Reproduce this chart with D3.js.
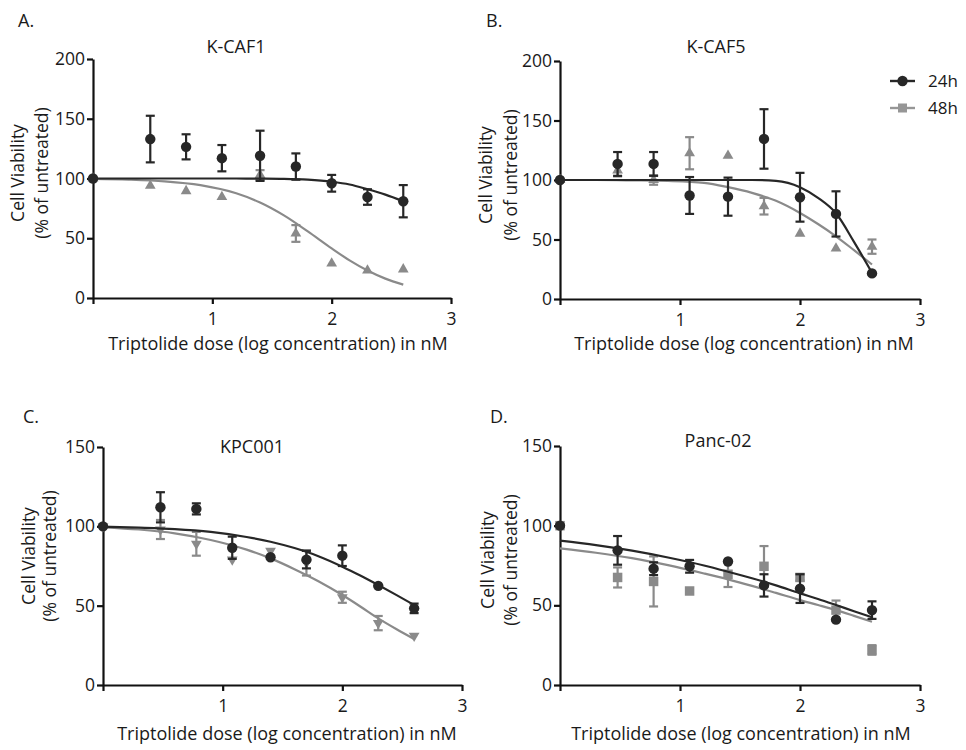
<!DOCTYPE html>
<html>
<head>
<meta charset="utf-8">
<script src="https://cdn.jsdelivr.net/npm/d3@7"></script>
<style>
  body { margin: 0; background: #fff; }
  svg text { font-family: "Open Sans", sans-serif; fill: #1a1a1a; }
</style>
</head>
<body>
<div id="chart-area"></div>
<script>
// log10 of triptolide dose in nM (0 = untreated)
var doses = [0, 0.48, 0.78, 1.08, 1.4, 1.7, 2.0, 2.3, 2.6];
var fitDoses = [0, 0.3, 0.6, 0.9, 1.2, 1.4, 1.6, 1.8, 2.0, 2.15, 2.3, 2.45, 2.6];

var xTicks = [0, 1, 2, 3];
var yTicksTop = [0, 50, 100, 150, 200];
var yTicksBottom = [0, 50, 100, 150];
var seriesNames = ["24h", "48h"];

// K-CAF1
var kcaf1_24h    = [100, 133, 126.5, 117, 119, 110, 96, 84.5, 81];
var kcaf1_24hErr = [0, 19.5, 10.5, 11, 21, 11, 7, 6.5, 13.5];
var kcaf1_48h    = [100, 94, 89.5, 84.5, 103, 54, 29, 23, 24];
var kcaf1_48hErr = [0, 0, 0, 0, 4, 7, 0, 0, 0];
var kcaf1_24hFit = [100, 100, 100, 100, 100, 99.9, 99.7, 99, 97.3, 95, 91, 86.5, 81];
var kcaf1_48hFit = [99.6, 99, 97.6, 94.4, 87.6, 79.9, 69.1, 55.7, 41.5, 31.5, 23, 16.2, 11.2];

// K-CAF5
var kcaf5_24h    = [100, 113.5, 113.5, 87, 86, 134.5, 85.5, 71.5, 21.5];
var kcaf5_24hErr = [0, 10, 10, 15.5, 16, 25, 20.5, 19, 0];
var kcaf5_48h    = [100, 108, 100, 122.5, 120.5, 78, 55, 42.5, 44];
var kcaf5_48hErr = [0, 5, 4, 13.5, 0, 7, 0, 0, 6];
var kcaf5_24hFit = [100, 100, 100, 100, 100, 100, 100, 99.3, 94, 85, 72, 48, 22];
var kcaf5_48hFit = [100, 100, 99.7, 99.2, 97.6, 94, 89.2, 82.5, 72.3, 63, 52.7, 41, 29];

// KPC001
var kpc001_24h    = [100, 112, 111, 86.5, 80.5, 79, 81.5, 62.5, 48.3];
var kpc001_24hErr = [0, 9.5, 3.5, 7, 0, 5.5, 6.5, 0, 3];
var kpc001_48h    = [100, 98, 89, 79, 84.5, 77, 55.3, 39, 31];
var kpc001_48hErr = [0, 6, 7.5, 0, 0, 8, 3.5, 4.5, 0];
var kpc001_24hFit = [99.8, 99.2, 98.3, 96.5, 93.3, 90.3, 86.3, 81.2, 74.6, 69, 63, 56.8, 50.4];
var kpc001_48hFit = [99.4, 98, 95.6, 91.4, 85.3, 79.8, 73, 65.4, 56.7, 49.5, 42, 35.3, 29];

// Panc-02
var panc02_24h    = [100, 84.5, 73, 74.5, 77.5, 62.5, 60.5, 41, 47];
var panc02_24hErr = [0, 9, 4, 4, 0, 7, 9, 0, 5.5];
var panc02_48h    = [100, 67.5, 65, 59, 69.5, 74.5, 67.5, 47, 22];
var panc02_48hErr = [0, 6.3, 15.7, 0, 8, 12.7, 2, 6, 3];
var panc02_24hFit = [90.6, 87.8, 84.3, 80, 75, 71.1, 67, 62.5, 57.5, 54, 50.2, 46.3, 42.5];
var panc02_48hFit = [85.8, 83, 79.6, 75.2, 70, 66.3, 62.2, 57.8, 53.3, 50.2, 47, 43.4, 39.7];

var dark = "#272727",
    gray = "#8a8a8a";

var svg = d3.select("#chart-area")
  .append("svg")
    .attr("width", 966)
    .attr("height", 750);

var xLabel = "Triptolide dose (log concentration) in nM";

function drawPanel(p) {
  var x = d3.scaleLinear().domain([0, 3]).range([p.x0, p.x1]);
  var y = d3.scaleLinear().domain([0, p.yMax]).range([p.y0, p.y1]);

  var g = svg.append("g");

  // panel letter + title
  g.append("text")
    .attr("x", p.letterX).attr("y", p.letterY)
    .attr("font-size", "18px")
    .text(p.letter);
  g.append("text")
    .attr("x", p.titleX).attr("y", p.titleY)
    .attr("text-anchor", "middle")
    .attr("font-size", "18px")
    .text(p.title);

  // y label (two lines)
  g.append("text")
    .attr("transform", "translate(" + p.yLab1 + "," + p.yLabY + ") rotate(-90)")
    .attr("text-anchor", "middle")
    .attr("dy", "0.35em")
    .attr("font-size", "17.5px")
    .text("Cell Viability");
  g.append("text")
    .attr("transform", "translate(" + p.yLab2 + "," + p.yLabY + ") rotate(-90)")
    .attr("text-anchor", "middle")
    .attr("dy", "0.35em")
    .attr("font-size", "17.5px")
    .text("(% of untreated)");

  // x label
  g.append("text")
    .attr("x", p.xLabX).attr("y", p.xLabY)
    .attr("text-anchor", "middle")
    .attr("font-size", "18px")
    .text(xLabel);

  // axes
  var xAxis = d3.axisBottom(x)
    .tickValues(xTicks)
    .tickSize(6)
    .tickSizeOuter(0)
    .tickPadding(9)
    .tickFormat(function(d) { return d === 0 ? "" : d; });
  var gx = g.append("g")
    .attr("transform", "translate(0," + p.y0 + ")")
    .call(xAxis);

  var yAxis = d3.axisLeft(y)
    .tickValues(p.yTicks)
    .tickSize(6)
    .tickSizeOuter(0)
    .tickPadding(2);
  var gy = g.append("g")
    .attr("transform", "translate(" + p.x0 + ",0)")
    .call(yAxis);

  [gx, gy].forEach(function(a) {
    a.select(".domain").attr("stroke", "#111").attr("stroke-width", 2.2);
    a.selectAll(".tick line").attr("stroke", "#111").attr("stroke-width", 2.2);
    a.selectAll(".tick text")
      .attr("font-family", "Open Sans, sans-serif")
      .attr("font-size", "17.5px")
      .attr("fill", "#1a1a1a");
  });

  var line = d3.line()
    .x(function(d) { return x(d[0]); })
    .y(function(d) { return y(d[1]); })
    .curve(d3.curveMonotoneX);

  // 48h drawn first, 24h on top
  var series = [
    { vals: p.s48, err: p.e48, fit: p.f48, color: gray, shape: p.shape48 },
    { vals: p.s24, err: p.e24, fit: p.f24, color: dark, shape: "circle" }
  ];

  series.forEach(function(s) {
    g.append("path")
      .datum(fitDoses.map(function(d, i) { return [d, s.fit[i]]; }))
      .attr("fill", "none")
      .attr("stroke", s.color)
      .attr("stroke-width", 2.2)
      .attr("d", line);

    var pts = doses.map(function(d, i) { return { x: d, v: s.vals[i], e: s.err[i] }; });

    var eb = g.selectAll(null)
      .data(pts.filter(function(d) { return d.e > 0; }))
      .enter().append("g")
      .attr("stroke", s.color)
      .attr("stroke-width", 2.2);
    eb.append("line")
      .attr("x1", function(d) { return x(d.x); })
      .attr("x2", function(d) { return x(d.x); })
      .attr("y1", function(d) { return y(d.v + d.e); })
      .attr("y2", function(d) { return y(d.v - d.e); });
    eb.append("line")
      .attr("x1", function(d) { return x(d.x) - 4.5; })
      .attr("x2", function(d) { return x(d.x) + 4.5; })
      .attr("y1", function(d) { return y(d.v + d.e); })
      .attr("y2", function(d) { return y(d.v + d.e); });
    eb.append("line")
      .attr("x1", function(d) { return x(d.x) - 4.5; })
      .attr("x2", function(d) { return x(d.x) + 4.5; })
      .attr("y1", function(d) { return y(d.v - d.e); })
      .attr("y2", function(d) { return y(d.v - d.e); });

    if (s.shape === "circle") {
      g.selectAll(null)
        .data(pts)
        .enter().append("circle")
        .attr("cx", function(d) { return x(d.x); })
        .attr("cy", function(d) { return y(d.v); })
        .attr("r", 5.2)
        .attr("fill", s.color);
    } else {
      var sym = s.shape === "square" ? d3.symbolSquare : d3.symbolTriangle;
      var size = s.shape === "square" ? 90 : 50;
      var rot = s.shape === "down" ? 180 : 0;
      g.selectAll(null)
        .data(pts)
        .enter().append("path")
        .attr("d", d3.symbol().type(sym).size(size))
        .attr("transform", function(d) {
          return "translate(" + x(d.x) + "," + y(d.v) + ") rotate(" + rot + ")";
        })
        .attr("fill", s.color);
    }
  });
}

drawPanel({
  letter: "A.", letterX: 18, letterY: 27,
  title: "K-CAF1", titleX: 236, titleY: 53,
  x0: 93, x1: 451, y0: 298, y1: 59, yMax: 200, yTicks: yTicksTop,
  yLab1: 18, yLab2: 42, yLabY: 173,
  xLabX: 278, xLabY: 350,
  s24: kcaf1_24h, e24: kcaf1_24hErr, f24: kcaf1_24hFit,
  s48: kcaf1_48h, e48: kcaf1_48hErr, f48: kcaf1_48hFit, shape48: "up"
});

drawPanel({
  letter: "B.", letterX: 486, letterY: 27,
  title: "K-CAF5", titleX: 716, titleY: 53,
  x0: 560, x1: 920, y0: 299, y1: 61, yMax: 200, yTicks: yTicksTop,
  yLab1: 486, yLab2: 511, yLabY: 175,
  xLabX: 744, xLabY: 350,
  s24: kcaf5_24h, e24: kcaf5_24hErr, f24: kcaf5_24hFit,
  s48: kcaf5_48h, e48: kcaf5_48hErr, f48: kcaf5_48hFit, shape48: "up"
});

drawPanel({
  letter: "C.", letterX: 23, letterY: 423,
  title: "KPC001", titleX: 252, titleY: 453,
  x0: 103, x1: 462, y0: 685, y1: 447, yMax: 150, yTicks: yTicksBottom,
  yLab1: 29, yLab2: 50, yLabY: 556,
  xLabX: 287, xLabY: 740,
  s24: kpc001_24h, e24: kpc001_24hErr, f24: kpc001_24hFit,
  s48: kpc001_48h, e48: kpc001_48hErr, f48: kpc001_48hFit, shape48: "down"
});

drawPanel({
  letter: "D.", letterX: 490, letterY: 423,
  title: "Panc-02", titleX: 718, titleY: 447,
  x0: 560, x1: 920, y0: 685, y1: 446, yMax: 150, yTicks: yTicksBottom,
  yLab1: 488, yLab2: 511, yLabY: 560,
  xLabX: 741, xLabY: 740,
  s24: panc02_24h, e24: panc02_24hErr, f24: panc02_24hFit,
  s48: panc02_48h, e48: panc02_48hErr, f48: panc02_48hFit, shape48: "square"
});

// legend (panel B)
var legend = svg.append("g");
seriesNames.forEach(function(name, i) {
  var c = i === 0 ? dark : "#969696";
  var row = legend.append("g")
    .attr("transform", "translate(890," + (81 + i * 27) + ")");
  row.append("line")
    .attr("x1", 0).attr("x2", 25)
    .attr("stroke", c).attr("stroke-width", 2.4);
  if (i === 0) {
    row.append("circle").attr("cx", 12.5).attr("r", 5.2).attr("fill", c);
  } else {
    row.append("rect").attr("x", 8).attr("y", -4.5)
      .attr("width", 9).attr("height", 9).attr("fill", c);
  }
  row.append("text")
    .attr("x", 38).attr("dy", "0.36em")
    .attr("font-family", "Liberation Sans, Arial, sans-serif")
    .attr("font-size", "17px")
    .text(name);
});
</script>
</body>
</html>
